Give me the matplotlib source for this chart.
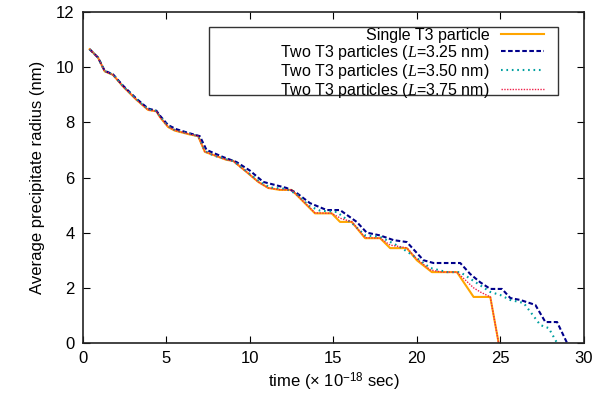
import matplotlib
matplotlib.use('Agg')
import matplotlib.pyplot as plt
from matplotlib.patches import Rectangle

plt.rcParams['font.family'] = ['Liberation Sans', 'DejaVu Sans']
plt.rcParams['mathtext.fontset'] = 'custom'
plt.rcParams['mathtext.rm'] = 'Liberation Sans'
plt.rcParams['mathtext.it'] = 'Liberation Serif:italic'

# data (time in 1e-18 sec, radius in nm)
t_single = [0.4, 0.9, 1.3, 1.8, 2.4, 3.2, 3.9, 4.4, 4.6, 5.1, 5.5, 6.4, 6.9, 7.3, 7.8, 8.6, 9.0,
            9.8, 10.5, 11.1, 11.8, 12.5, 13.9, 14.9, 15.4, 16.1, 16.9, 17.8, 18.4, 19.4, 20.0,
            20.9, 22.4, 23.4, 24.4, 24.9]
r_single = [10.65, 10.35, 9.85, 9.72, 9.3, 8.82, 8.45, 8.4, 8.2, 7.83, 7.7, 7.56, 7.5, 6.93, 6.82,
            6.64, 6.6, 6.2, 5.84, 5.62, 5.55, 5.55, 4.7, 4.7, 4.39, 4.39, 3.8, 3.8, 3.44, 3.44, 3.0,
            2.57, 2.57, 1.67, 1.67, 0.0]

t_325 = [0.4, 0.9, 1.3, 1.8, 2.4, 3.2, 3.9, 4.4, 4.6, 5.1, 5.6, 6.4, 7.0, 7.4, 8.4, 9.2, 10.0,
         10.8, 12.2, 12.8, 13.6, 14.6, 15.4, 16.4, 17.0, 17.8, 18.6, 19.4, 20.4, 21.0, 22.6, 23.2,
         23.8, 24.4, 25.1, 25.6, 26.2, 27.1, 27.7, 28.4, 29.0]
r_325 = [10.65, 10.35, 9.87, 9.74, 9.33, 8.86, 8.5, 8.42, 8.25, 7.9, 7.75, 7.6, 7.5, 7.0, 6.74,
         6.56, 6.25, 5.84, 5.62, 5.44, 5.07, 4.82, 4.82, 4.39, 4.0, 3.9, 3.73, 3.66, 3.0, 2.9, 2.9,
         2.5, 2.2, 1.96, 1.96, 1.63, 1.56, 1.38, 0.76, 0.76, 0.0]

t_350 = [0.4, 0.9, 1.3, 1.8, 2.4, 3.2, 3.9, 4.4, 4.6, 5.1, 5.5, 6.4, 6.9, 7.3, 7.8, 8.6, 9.0,
         9.8, 10.6, 11.2, 12.2, 12.8, 13.6, 14.2, 15.2, 16.2, 16.9, 17.8, 19.0, 20.0, 20.8, 21.8,
         22.6, 23.6, 24.4, 25.0, 25.6, 26.4, 27.4, 27.9, 28.4]
r_350 = [10.65, 10.35, 9.86, 9.73, 9.31, 8.84, 8.47, 8.41, 8.22, 7.86, 7.72, 7.58, 7.5, 6.96, 6.8,
         6.66, 6.6, 6.22, 5.84, 5.64, 5.58, 5.4, 4.95, 4.8, 4.75, 4.3, 3.9, 3.85, 3.48, 3.08, 2.72,
         2.57, 2.57, 2.17, 1.85, 1.74, 1.56, 1.45, 0.65, 0.54, 0.0]

t_375 = [0.4, 0.9, 1.3, 1.8, 2.4, 3.2, 3.9, 4.4, 4.6, 5.1, 5.5, 6.4, 6.9, 7.3, 7.8, 8.6, 9.0,
         9.8, 10.5, 11.1, 11.8, 12.5, 13.9, 14.9, 15.5, 16.1, 16.9, 17.8, 18.4, 19.4, 20.0, 20.8,
         21.5, 22.4, 23.4, 23.8, 24.4, 24.9]
r_375 = [10.65, 10.35, 9.85, 9.72, 9.3, 8.82, 8.45, 8.4, 8.2, 7.84, 7.71, 7.57, 7.5, 6.94, 6.82,
         6.64, 6.6, 6.2, 5.84, 5.62, 5.56, 5.55, 4.72, 4.7, 4.5, 4.4, 3.82, 3.8, 3.55, 3.45, 3.05,
         2.65, 2.57, 2.57, 2.0, 1.85, 1.67, 0.0]

labels = ['Single T3 particle',
          'Two T3 particles ($L$=3.25 nm)',
          'Two T3 particles ($L$=3.50 nm)',
          'Two T3 particles ($L$=3.75 nm)']

fig = plt.figure(figsize=(6.1, 4.0), dpi=100)
ax = fig.add_axes([0.136, 0.1425, 0.821, 0.8275])

ax.plot(t_single, r_single, color='#FFA500', lw=1.5, label=labels[0])
ax.plot(t_325, r_325, color='#00008B', lw=1.5, dashes=(2.2, 1.2), label=labels[1])
ax.plot(t_350, r_350, color='#00A0A0', lw=1.5, dashes=(0.8, 1.8), label=labels[2])
ax.plot(t_375, r_375, color='#F0204A', lw=1.0, dashes=(1, 1), label=labels[3])

ax.set_xlim(0, 30)
ax.set_ylim(0, 12)
ax.set_xticks(range(0, 31, 5))
ax.set_yticks(range(0, 13, 2))
ax.tick_params(direction='in', top=True, right=True, length=5, labelsize=12, pad=6)
for s in ax.spines.values():
    s.set_linewidth(1.2)
    s.set_color('#222222')

ax.set_xlabel('time ($\\times$ 10$^{-18}$ sec)', fontsize=12, labelpad=3)
ax.set_ylabel('Average precipitate radius (nm)', fontsize=12, labelpad=8)

# gnuplot-style key: text right-aligned, sample line on the right, wide box
ax.add_patch(Rectangle((0.2515, 0.749), 0.6965, 0.206, transform=ax.transAxes,
                       facecolor='white', edgecolor='#333333', lw=1.0, zorder=4))
leg = ax.legend(loc='upper right', bbox_to_anchor=(0.92, 0.952), markerfirst=False,
                frameon=False, fontsize=11.5, borderpad=0, labelspacing=0.0,
                handlelength=2.7, handletextpad=0.7, borderaxespad=0)
leg.set_zorder(5)
leg._legend_handle_box.get_children()[0].align = 'right'

fig.savefig('out.png', dpi=100)
